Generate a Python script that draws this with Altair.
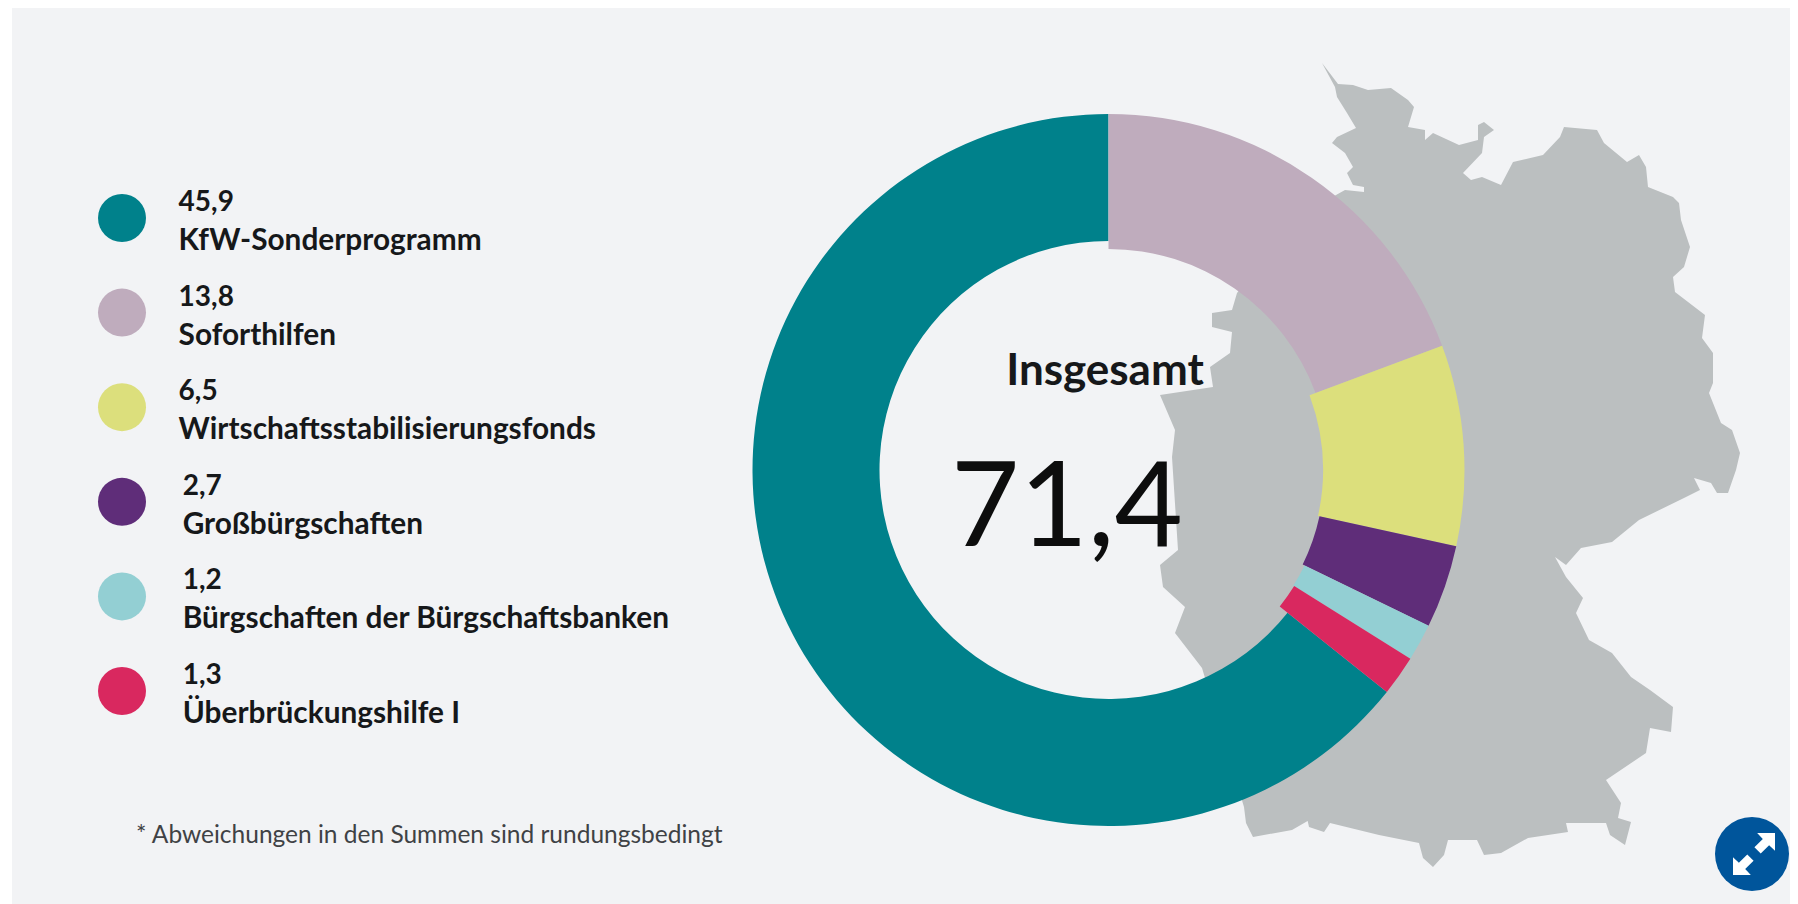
import altair as alt
import pandas as pd

# ---- data ----
names = ["KfW-Sonderprogramm", "Soforthilfen", "Wirtschaftsstabilisierungsfonds",
         "Großbürgschaften", "Bürgschaften der Bürgschaftsbanken", "Überbrückungshilfe I"]
values = [45.9, 13.8, 6.5, 2.7, 1.2, 1.3]
value_labels = ["45,9", "13,8", "6,5", "2,7", "1,2", "1,3"]
colors = ["#00818b", "#bfacbd", "#dcdf7c", "#5f2d79", "#93cfd3", "#d9285f"]
slice_order = [6, 1, 2, 3, 4, 5]          # clockwise from 12 o'clock
total_label = "71,4"
total_title = "Insgesamt"
footnote = "* Abweichungen in den Summen sind rundungsbedingt"

map_x = [1345,1364,1364,1353,1347,1353,1345,1332,1337,1356,1347,1337,1335,1322,1338,1353,1368,1391,1408,1414,1408,1425,1425,1433,1459,1478,1478,1484,1494,1484,1482,1463,1471,1482,1501,1513,1543,1560,1564,1597,1604,1627,1639,1646,1648,1673,1679,1681,1690,1684,1673,1675,1705,1702,1713,1713,1709,1721,1732,1740,1736,1728,1717,1711,1694,1700,1684,1639,1612,1581,1566,1555,1566,1583,1576,1589,1612,1631,1650,1673,1671,1650,1646,1606,1621,1618,1631,1625,1610,1606,1566,1568,1528,1501,1484,1477,1448,1444,1433,1423,1419,1379,1330,1324,1309,1307,1318,1292,1253,1246,1244,1202,1175,1185,1163,1160,1178,1172,1175,1160,1213,1210,1230,1232,1212,1212,1232,1237,1300]
map_y = [190,192,187,185,173,167,153,143,137,128,113,97,87,63,84,85,90,88,100,107,127,130,140,133,145,140,125,122,130,137,153,173,180,177,185,162,155,137,127,130,143,162,155,167,187,197,203,220,247,267,277,292,315,338,353,383,393,423,430,453,470,493,493,483,478,490,498,520,542,548,565,557,577,598,613,640,653,677,690,707,732,728,753,780,803,818,822,845,835,823,823,832,838,853,855,840,840,855,867,858,843,835,823,832,827,818,815,830,837,823,807,668,633,607,587,565,550,457,430,395,387,367,353,332,327,313,310,293,215]

# ---- layout ----
W, H = 1778, 896          # panel from x=12, y=8; the page keeps 8px on the right
X0, Y0 = 12, 8
CX, CY = 1108.5 - X0, 470 - Y0
R_OUT = 356
r_in = [229, 221, 214.5, 216, 218, 219]
ROW_TOP, ROW_BOTTOM = 218 - Y0, 691 - Y0
DOT_X = 122 - X0
text_x = [178.6 - X0] * 3 + [182.7 - X0] * 3

FONT = "Lato"
INK = "#16181a"

df = pd.DataFrame({
    "name": names, "value": values, "label": value_labels, "color": colors,
    "order": slice_order, "row": range(6), "r_in": r_in, "r_out": [R_OUT] * 6,
    "tx": text_x,
})

row_scale = alt.Scale(domain=[0, 5], range=[ROW_TOP, ROW_BOTTOM])

ring = [[x, y] for x, y in zip(map_x, map_y)]
ring.append(ring[0])
germany = (
    alt.Chart(alt.Data(values=[{"type": "Feature", "properties": {},
                                "geometry": {"type": "Polygon", "coordinates": [ring]}}]))
    .mark_geoshape(fill="#bbbfc0", stroke=None)
    .project(type="identity", scale=1, translate=[-X0, -Y0])
)

donut = (
    alt.Chart(df)
    .transform_window(t1="sum(value)", sort=[alt.SortField("order")])
    .transform_calculate(t0="datum.t1 - datum.value")
    .mark_arc(stroke=None)
    .encode(
        theta=alt.Theta("t0:Q", scale=alt.Scale(domain=[0, sum(values)], range=[0, 6.283185307])),
        theta2="t1:Q",
        radius=alt.Radius("r_out:Q", scale=alt.Scale(type="linear", domain=[0, R_OUT], range=[0, R_OUT])),
        radius2="r_in:Q",
        fill=alt.Fill("color:N", scale=None),
        x=alt.value(CX), y=alt.value(CY),
    )
)

dots = alt.Chart(df).mark_circle(size=2304, opacity=1).encode(
    x=alt.value(DOT_X),
    y=alt.Y("row:Q", scale=row_scale, axis=None),
    fill=alt.Fill("color:N", scale=None),
)

label_vals = alt.Chart(df).mark_text(font=FONT, fontWeight="bold", fontSize=28, align="left",
                                     baseline="middle", dy=-15, color=INK).encode(
    x=alt.X("tx:Q", scale=None), y=alt.Y("row:Q", scale=row_scale, axis=None), text="label:N")
label_names = alt.Chart(df).mark_text(font=FONT, fontWeight="bold", fontSize=29.8, align="left",
                                      baseline="middle", dy=23, color=INK).encode(
    x=alt.X("tx:Q", scale=None), y=alt.Y("row:Q", scale=row_scale, axis=None), text="name:N")

def caption(text, x, y, size, weight, color, align="center"):
    return alt.Chart(pd.DataFrame({"t": [text]})).mark_text(
        font=FONT, fontSize=size, fontWeight=weight, align=align, baseline="middle", color=color
    ).encode(x=alt.value(x - X0), y=alt.value(y - Y0), text="t:N")

title_t = caption(total_title, 1105, 372, 44, "bold", INK)
total_t = caption(total_label, 1067, 511, 118, "normal", "#0d0d0d")
foot_t = caption(footnote, 136, 836, 24.5, "normal", "#3f4245", align="left")

arrows = ("M1,-1 L1,-.15 L.72,-.42 L.32,-.02 L.02,-.32 L.42,-.72 L.15,-1 Z "
          "M-1,1 L-1,.15 L-.72,.42 L-.32,.02 L-.02,.32 L-.42,.72 L-.15,1 Z")
btn_df = pd.DataFrame({"k": ["b"]})
button = alt.Chart(btn_df).mark_circle(size=5476, opacity=1, color="#00559b").encode(
    x=alt.value(1752 - X0), y=alt.value(854 - Y0))
button_icon = alt.Chart(btn_df).mark_point(shape=arrows, filled=True, size=1764, opacity=1,
                                           color="#ffffff", strokeWidth=0).encode(
    x=alt.value(1754 - X0), y=alt.value(854 - Y0))

chart = (
    alt.layer(germany, donut, dots, label_vals, label_names, title_t, total_t, foot_t, button, button_icon)
    .resolve_scale(theta="independent", radius="independent")
    .properties(width=W, height=H, padding={"left": 4, "top": 0, "right": 0, "bottom": 0},
                background="#ffffff", autosize=alt.AutoSizeParams(type="none"))
    .configure_view(fill="#f2f3f5", stroke=None)
)

chart.save("out.html", embed_options={"renderer": "svg", "actions": False})
